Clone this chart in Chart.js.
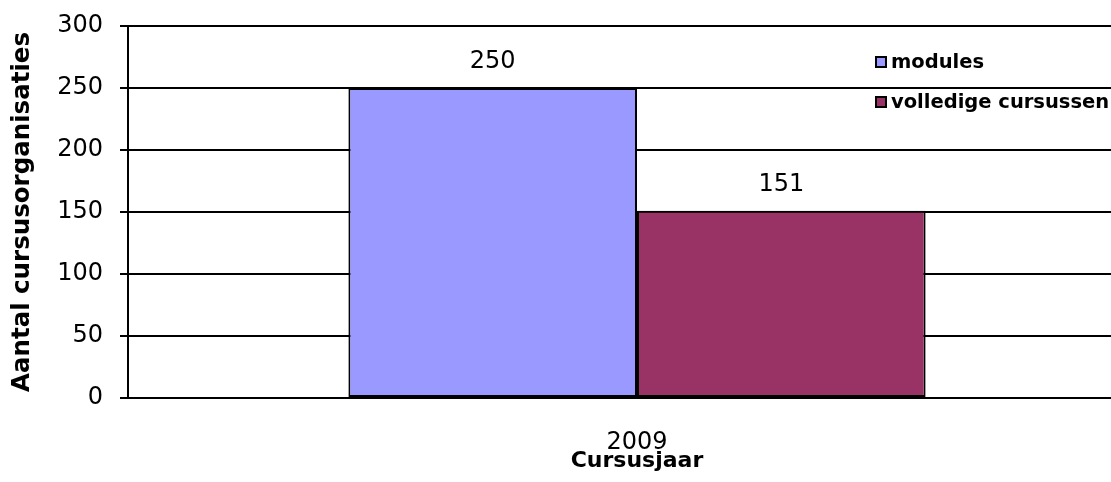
<!DOCTYPE html>
<html>
<head>
<meta charset="utf-8">
<script src="https://cdn.jsdelivr.net/npm/chart.js@4/dist/chart.umd.min.js"></script>
<style>
  html, body { margin: 0; padding: 0; background: #fff; overflow: hidden; }
  #wrap { width: 1146px; height: 482px; position: relative; }
</style>
</head>
<body>
<div id="wrap"><canvas id="chart1"></canvas></div>
<script>
/* Data */
const years = ['2009'];
const modules = [250];
const volledigeCursussen = [151];
const seriesNames = ['modules', 'volledige cursussen'];
const seriesColors = ['#9999FF', '#993366'];
const yTicks = [0, 50, 100, 150, 200, 250, 300];

/* Value labels above the bars */
const valueLabels = {
    id: 'valueLabels',
    afterDatasetsDraw(chart) {
        const c = chart.ctx;
        c.save();
        c.font = '24px "DejaVu Sans"';
        c.fillStyle = '#000';
        c.textAlign = 'center';
        c.textBaseline = 'alphabetic';
        chart.data.datasets.forEach((ds, i) => {
            chart.getDatasetMeta(i).data.forEach((bar, j) => {
                c.fillText(ds.data[j], bar.x, bar.y - 20);
            });
        });
        c.restore();
    }
};

/* Legend drawn inside the plot, top right */
const boxLegend = {
    id: 'boxLegend',
    afterDraw(chart) {
        const c = chart.ctx;
        c.save();
        c.font = 'bold 19.5px "DejaVu Sans"';
        c.textBaseline = 'alphabetic';
        c.textAlign = 'left';
        chart.data.datasets.forEach((ds, i) => {
            const y = 57 + i * 40;
            c.fillStyle = ds.backgroundColor;
            c.fillRect(876, y, 10, 10);
            c.strokeStyle = '#000';
            c.lineWidth = 2;
            c.strokeRect(876, y, 10, 10);
            c.fillStyle = '#000';
            c.fillText(ds.label, 891, y + 11);
        });
        c.restore();
    }
};

const ctx = document.getElementById('chart1');
const chart1 = new Chart(ctx, {
    type: 'bar',
    data: {
        labels: years,
        datasets: [
            {
                label: seriesNames[0],
                data: modules,
                backgroundColor: seriesColors[0],
                borderColor: '#000',
                borderWidth: 2,
                borderSkipped: false
            },
            {
                label: seriesNames[1],
                data: volledigeCursussen,
                backgroundColor: seriesColors[1],
                borderColor: '#000',
                borderWidth: 2,
                borderSkipped: false
            }
        ]
    },
    options: {
        responsive: true,
        maintainAspectRatio: false,
        animation: false,
        layout: { padding: { top: 26, left: 0, right: 0, bottom: 0 } },
        categoryPercentage: 0.567,
        barPercentage: 1,
        plugins: {
            legend: { display: false },
            tooltip: { enabled: false }
        },
        scales: {
            x: {
                grid: { display: false },
                border: { display: false },
                ticks: {
                    color: '#000',
                    font: { family: 'DejaVu Sans', size: 24 },
                    padding: 22
                },
                title: {
                    display: true,
                    text: 'Cursusjaar',
                    color: '#000',
                    font: { family: 'DejaVu Sans', size: 22, weight: 'bold' },
                    padding: { top: 0, bottom: 8 }
                },
                afterFit(scale) { scale.height = 84; }
            },
            y: {
                min: 0,
                max: 300,
                grid: {
                    color: '#000',
                    lineWidth: 2,
                    tickLength: 8
                },
                border: { display: true, color: '#000', width: 2 },
                afterBuildTicks(scale) {
                    scale.ticks = yTicks.map(v => ({ value: v }));
                },
                ticks: {
                    color: '#000',
                    font: { family: 'DejaVu Sans', size: 24 },
                    padding: 17
                },
                title: {
                    display: true,
                    text: 'Aantal cursusorganisaties',
                    color: '#000',
                    font: { family: 'DejaVu Sans', size: 24.5, weight: 'bold' },
                    padding: { top: 8, bottom: 4 }
                },
                afterFit(scale) {
                    scale.width = 128;
                    scale.paddingTop = 0;
                    scale.paddingBottom = 0;
                }
            }
        }
    },
    plugins: [valueLabels, boxLegend]
});
</script>
</body>
</html>
